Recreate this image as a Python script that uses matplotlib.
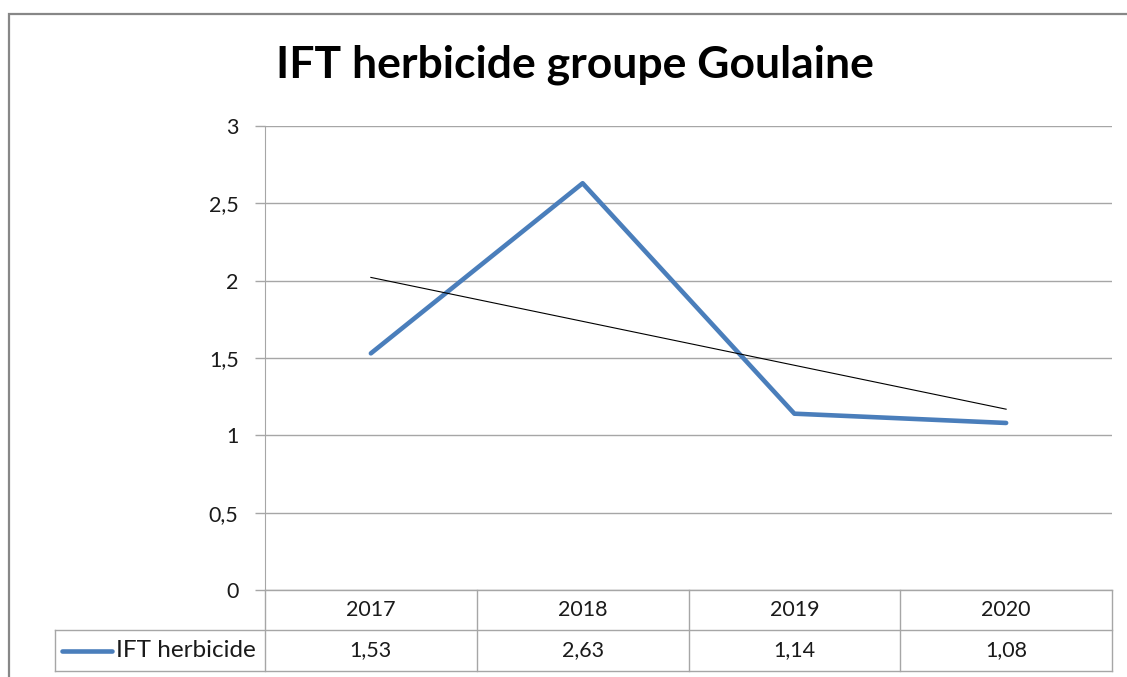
import numpy as np
import matplotlib.pyplot as plt
from matplotlib.patches import Rectangle
import matplotlib.transforms as mtransforms

years = ['2017', '2018', '2019', '2020']
ift = [1.53, 2.63, 1.14, 1.08]
series_name = 'IFT herbicide'
title = 'IFT herbicide groupe Goulaine'
yticks = [0, 0.5, 1, 1.5, 2, 2.5, 3]

plt.rcParams['font.family'] = ['Lato', 'DejaVu Sans']
grey = '#a6a6a6'
blue = '#4a7ebb'
txt = '#1a1a1a'

W, H = 1127, 677
fig = plt.figure(figsize=(W / 100, H / 100), dpi=100)

# outer chart frame
fig.patches.append(Rectangle((9 / W, -0.05), 1.2, (H - 14) / H + 0.05, transform=fig.transFigure,
                             fill=False, edgecolor='#878787', linewidth=1.6))

ax = fig.add_axes([265 / W, 87 / H, (1112 - 265) / W, 464 / H])
x = np.arange(1, len(years) + 1)

ax.plot(x, ift, color=blue, linewidth=3.3, solid_capstyle='round', zorder=3)
# linear trend line
k, b = np.polyfit(x, ift, 1)
ax.plot(x, k * x + b, color='black', linewidth=0.8, zorder=4)

ax.set_xlim(0.5, len(years) + 0.5)
ax.set_ylim(0, 3)
ax.set_yticks(yticks)
ax.set_yticklabels([f'{v:g}'.replace('.', ',') for v in yticks], fontsize=15.5, color=txt)
ax.set_xticks([])
ax.grid(axis='y', color=grey, linewidth=1)
ax.set_axisbelow(True)
ax.tick_params(axis='y', length=7, width=1, color=grey, pad=12)
for s in ['top', 'right', 'bottom']:
    ax.spines[s].set_visible(False)
ax.spines['left'].set_color(grey)

# data table under the plot
tr = mtransforms.blended_transform_factory(ax.transData, ax.transAxes)
r1, r2 = -40 / 464, -81 / 464
leg_left = (55 - 265) / 211.75 + 0.5
lk = dict(color=grey, linewidth=1, transform=tr, clip_on=False)
ax.plot([0.5, 4.5], [0, 0], **lk)
ax.plot([leg_left, 4.5], [r1, r1], **lk)
ax.plot([leg_left, 4.5], [r2, r2], **lk)
ax.plot([leg_left, leg_left], [r1, r2], **lk)
for xv in np.arange(0.5, len(years) + 1):
    ax.plot([xv, xv], [0, r2], **lk)
for xi, yr, v in zip(x, years, ift):
    ax.text(xi, r1 / 2, yr, transform=tr, ha='center', va='center', fontsize=15.5, color=txt)
    ax.text(xi, (r1 + r2) / 2, f'{v:.2f}'.replace('.', ','), transform=tr,
            ha='center', va='center', fontsize=15.5, color=txt)
ax.plot([leg_left + 0.035, leg_left + 0.27], [(r1 + r2) / 2] * 2, color=blue, linewidth=3.3,
        solid_capstyle='round', transform=tr, clip_on=False)
ax.text(leg_left + 0.29, (r1 + r2) / 2, series_name, transform=tr, ha='left', va='center',
        fontsize=17.5, color=txt)

fig.text(575 / W, 1 - 65 / H, title, ha='center', va='center', fontsize=32, fontweight='bold')

fig.savefig('out.png', dpi=100)
